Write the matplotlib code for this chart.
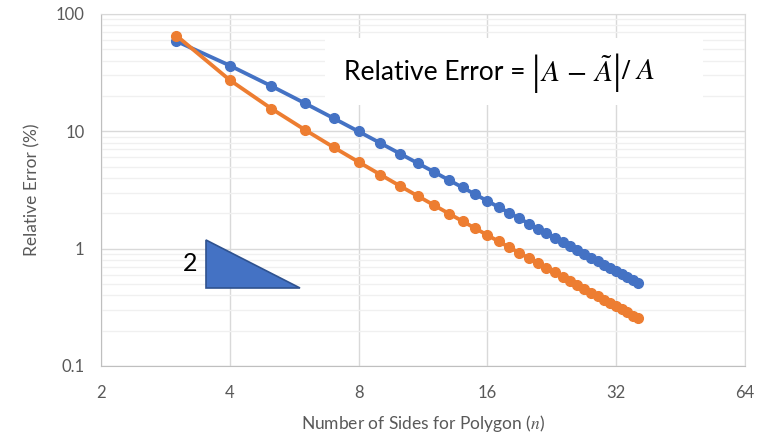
import matplotlib
matplotlib.use("Agg")
import matplotlib.pyplot as plt
from matplotlib.patches import Polygon, Rectangle
from matplotlib.ticker import FixedLocator, LogLocator, NullFormatter

plt.rcParams['font.family'] = ['Lato', 'DejaVu Sans']
plt.rcParams['mathtext.fontset'] = 'stix'

# number of sides
sides = list(range(3, 37))

# relative error (%) of the inscribed polygon
inscribed = [58.65, 36.34, 24.32, 17.30, 12.90, 9.97, 7.93, 6.45, 5.35, 4.51,
             3.848, 3.323, 2.899, 2.551, 2.261, 2.019, 1.813, 1.637, 1.485, 1.354,
             1.239, 1.139, 1.049, 0.971, 0.900, 0.837, 0.781, 0.730, 0.683, 0.641,
             0.603, 0.568, 0.536, 0.507]

# relative error (%) of the circumscribed polygon
circumscribed = [65.40, 27.32, 15.63, 10.27, 7.30, 5.48, 4.27, 3.42, 2.81, 2.35,
                 1.993, 1.713, 1.488, 1.305, 1.154, 1.028, 0.921, 0.831, 0.753, 0.685,
                 0.627, 0.575, 0.530, 0.490, 0.454, 0.422, 0.393, 0.367, 0.344, 0.323,
                 0.303, 0.286, 0.269, 0.255]

xticks = [2, 4, 8, 16, 32, 64]
yticks = [0.1, 1, 10, 100]

# slope triangle corners (data coords)
tri_x = [3.52, 3.52, 5.84]
tri_y = [1.19, 0.462, 0.462]

fig = plt.figure(figsize=(7.6, 4.37), dpi=100)
ax = fig.add_axes([0.133, 0.1625, 0.847, 0.8055])

ax.set_xscale('log', base=2)
ax.set_yscale('log')
ax.set_xlim(2, 64)
ax.set_ylim(0.1, 100)

ax.xaxis.set_major_locator(FixedLocator(xticks))
ax.set_xticklabels([str(t) for t in xticks])
ax.xaxis.set_minor_locator(FixedLocator([]))
ax.yaxis.set_major_locator(FixedLocator(yticks))
ax.set_yticklabels(['0.1', '1', '10', '100'])
ax.yaxis.set_minor_locator(LogLocator(base=10, subs=range(2, 10)))
ax.yaxis.set_minor_formatter(NullFormatter())

ax.grid(which='major', color='#D9D9D9', lw=1.0)
ax.grid(which='minor', axis='y', color='#F0F0F0', lw=1.0)
ax.set_axisbelow(True)
for s in ax.spines.values():
    s.set_color('#D9D9D9')
ax.spines['left'].set_color('#BFBFBF')
ax.spines['bottom'].set_color('#BFBFBF')
ax.tick_params(which='both', length=0, labelsize=12, colors='#595959')
ax.tick_params(axis='x', pad=14)
ax.tick_params(axis='y', pad=12)

ax.plot(sides, inscribed, color='#4472C4', lw=2.75, marker='o', ms=7, zorder=3)
ax.plot(sides, circumscribed, color='#ED7D31', lw=2.75, marker='o', ms=7, zorder=3)

ax.set_xlabel('Number of Sides for Polygon ($\\mathit{n}$)', fontsize=12.5, color='#595959', labelpad=8)
ax.set_ylabel('Relative Error (%)', fontsize=12.5, color='#595959', labelpad=11)

tri = Polygon(list(zip(tri_x, tri_y)), closed=True, facecolor='#4472C4',
              edgecolor='#2F528F', lw=1.2, zorder=4)
ax.add_patch(tri)
ax.text(3.35, 0.74, '2', fontsize=18, ha='right', va='center', color='black')

# white label box behind the formula
ax.add_patch(Rectangle((0.348, 0.7415), 0.587, 0.19, transform=ax.transAxes,
                       facecolor='white', edgecolor='none', zorder=5))
t1 = ax.text(0.378, 0.835, 'Relative Error =', transform=ax.transAxes,
             fontsize=19, ha='left', va='center', zorder=6)
t2 = ax.annotate('|', xy=(1, 0.45), xycoords=t1, xytext=(4, 0), textcoords='offset points',
                 fontsize=30, family='Liberation Serif', ha='left', va='center', zorder=6)
t3 = ax.annotate('$A\\,-\\,\\tilde{A}$', xy=(1, 0.55), xycoords=t2, fontsize=21,
                 ha='left', va='center', zorder=6)
t4 = ax.annotate('|', xy=(1, 0.45), xycoords=t3, fontsize=30, family='Liberation Serif',
                 ha='left', va='center', zorder=6)
t5 = ax.annotate('$/\\ A$', xy=(1, 0.55), xycoords=t4, fontsize=21,
                 ha='left', va='center', zorder=6)

fig.savefig('out.png', dpi=100)
